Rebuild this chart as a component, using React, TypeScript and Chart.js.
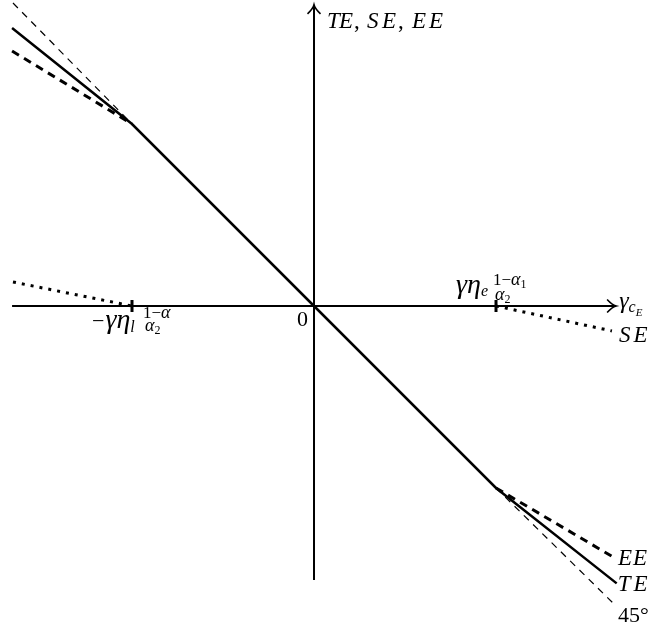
import React, { useEffect, useRef } from "react";
import { Chart, registerables } from "chart.js";

Chart.register(...registerables);

// ---- data (diagram units: 1 = the kink position) ----
const xRange = [-1.7253, 1.8571];
const yRange = [-1.8187, 1.6813];
const tickValues = [-1, 1];
const xAxisLine = [
  { x: -1.659, y: 0 },
  { x: 1.66, y: 0 },
];
const yAxisLine = [
  { x: 0, y: -1.505 },
  { x: 0, y: 1.655 },
];
const teLine = [
  { x: -1.659, y: 1.527 },
  { x: -1, y: 1 },
  { x: 0, y: 0 },
  { x: 1, y: -1 },
  { x: 1.663, y: -1.524 },
];
const eeLeft = [
  { x: -1.659, y: 1.401 },
  { x: -1, y: 1 },
];
const eeRight = [
  { x: 1, y: -1 },
  { x: 1.643, y: -1.379 },
];
const deg45Left = [
  { x: -1.654, y: 1.665 },
  { x: -1, y: 1 },
];
const deg45Right = [
  { x: 1, y: -1 },
  { x: 1.659, y: -1.648 },
];
const seLeft = [
  { x: -1.654, y: 0.132 },
  { x: -1, y: 0 },
];
const seRight = [
  { x: 1, y: 0 },
  { x: 1.637, y: -0.137 },
];

// ---- text labels ----
const yAxisTitle = ["T", "E", ",", "S", "E", ",", "E", "E"];
const yAxisTitleOffsets = [0, 12, 27, 40, 55, 71, 85, 102];
const originLabel = "0";
const lineLabels = ["EE", "TE", "45°"];
const seLabel = "SE";

const FONT = '"Liberation Serif", "Times New Roman", serif';

type Run = { t: string; size: number; italic?: boolean; dy?: number; gap?: number };

function drawRuns(ctx: CanvasRenderingContext2D, x: number, y: number, runs: Run[]) {
  for (const r of runs) {
    ctx.font = `${r.italic ? "italic " : ""}${r.size}px ${FONT}`;
    ctx.fillText(r.t, x, y + (r.dy || 0));
    x += ctx.measureText(r.t).width + (r.gap || 0);
  }
  return x;
}

const overlay = {
  id: "overlay",
  afterDatasetsDraw(chart: any) {
    const ctx: CanvasRenderingContext2D = chart.ctx;
    const xs = chart.scales.x;
    const ys = chart.scales.y;
    const X = (v: number) => xs.getPixelForValue(v);
    const Y = (v: number) => ys.getPixelForValue(v);
    const ox = X(0);
    const oy = Y(0);
    ctx.save();
    ctx.strokeStyle = "#000";
    ctx.fillStyle = "#000";
    ctx.lineCap = "butt";

    // tick marks
    ctx.lineWidth = 3;
    for (const t of tickValues) {
      const px = X(t);
      ctx.beginPath();
      ctx.moveTo(px, oy - 6);
      ctx.lineTo(px, oy + 6);
      ctx.stroke();
    }

    // arrow heads
    ctx.lineWidth = 1.6;
    const tx = X(xAxisLine[1].x);
    ctx.beginPath();
    ctx.moveTo(tx - 9, oy - 6.5);
    ctx.quadraticCurveTo(tx - 4, oy - 1, tx, oy);
    ctx.quadraticCurveTo(tx - 4, oy + 1, tx - 9, oy + 6.5);
    ctx.stroke();
    const ty = Y(yAxisLine[1].y);
    ctx.beginPath();
    ctx.moveTo(ox - 6.5, ty + 9);
    ctx.quadraticCurveTo(ox - 1, ty + 4, ox, ty);
    ctx.quadraticCurveTo(ox + 1, ty + 4, ox + 6.5, ty + 9);
    ctx.stroke();

    ctx.textBaseline = "alphabetic";
    ctx.textAlign = "left";

    // y axis title: TE, SE, EE
    yAxisTitle.forEach((c, i) => {
      ctx.font = `${c === "," ? "" : "italic "}23px ${FONT}`;
      ctx.fillText(c, ox + 13 + yAxisTitleOffsets[i], ty + 23);
    });

    // x axis title: gamma_{c_E}
    drawRuns(ctx, tx + 3, oy + 2, [
      { t: "γ", size: 24, italic: true },
      { t: "c", size: 16, italic: true, dy: 4 },
      { t: "E", size: 11, italic: true, dy: 8 },
    ]);

    // origin
    ctx.font = `22px ${FONT}`;
    ctx.fillText(originLabel, ox - 17, oy + 20);

    // left tick label: −γη_l (1−α)/α2
    const lx = X(-1);
    drawRuns(ctx, lx - 40, oy + 22, [
      { t: "−", size: 22, gap: 1 },
      { t: "γη", size: 28, italic: true },
      { t: "l", size: 16, italic: true, dy: 4 },
    ]);
    drawRuns(ctx, lx + 11, oy + 12, [
      { t: "1−", size: 17 },
      { t: "α", size: 18, italic: true },
    ]);
    drawRuns(ctx, lx + 13, oy + 25, [
      { t: "α", size: 18, italic: true },
      { t: "2", size: 12, dy: 3 },
    ]);

    // right tick label: γη_e (1−α1)/α2
    const rx = X(1);
    drawRuns(ctx, rx - 40, oy - 13, [
      { t: "γη", size: 28, italic: true },
      { t: "e", size: 16, italic: true, dy: 3 },
    ]);
    drawRuns(ctx, rx - 3, oy - 21, [
      { t: "1−", size: 17 },
      { t: "α", size: 18, italic: true },
      { t: "1", size: 12, dy: 3 },
    ]);
    drawRuns(ctx, rx - 1, oy - 6, [
      { t: "α", size: 18, italic: true },
      { t: "2", size: 12, dy: 3 },
    ]);

    // SE label
    const seEnd = seRight[1];
    drawRuns(ctx, X(seEnd.x) + 7, Y(seEnd.y) + 11, [
      { t: seLabel[0], size: 23, italic: true, gap: 3 },
      { t: seLabel[1], size: 23, italic: true },
    ]);

    // right-end labels
    const ends = [eeRight[1], teLine[teLine.length - 1], deg45Right[1]];
    lineLabels.forEach((lab, i) => {
      const p = ends[i];
      const py = Y(p.y) + 8 + (i === 2 ? 8 : 0);
      if (lab === "45°") {
        ctx.font = `22px ${FONT}`;
        ctx.fillText(lab, X(p.x) + 2, py);
      } else {
        const px = i === 0 ? X(p.x) + 5 : X(p.x) + 1;
        drawRuns(ctx, px, py, [
          { t: lab[0], size: 23, italic: true, gap: lab === "TE" ? 3 : 1 },
          { t: lab[1], size: 23, italic: true },
        ]);
      }
    });

    ctx.restore();
  },
};

export default function App() {
  const ref = useRef<HTMLCanvasElement | null>(null);
  useEffect(() => {
    if (!ref.current) return;
    const base = { showLine: true, pointRadius: 0, borderColor: "#000", backgroundColor: "#000", fill: false, tension: 0 };
    const chart = new Chart(ref.current, {
      type: "scatter",
      data: {
        datasets: [
          { ...base, label: "x-axis", data: xAxisLine, borderWidth: 2 },
          { ...base, label: "y-axis", data: yAxisLine, borderWidth: 2 },
          { ...base, label: "45° L", data: deg45Left, borderWidth: 1.2, borderDash: [7, 6] },
          { ...base, label: "45° R", data: deg45Right, borderWidth: 1.2, borderDash: [7, 6] },
          { ...base, label: "EE L", data: eeLeft, borderWidth: 3, borderDash: [8, 6] },
          { ...base, label: "EE R", data: eeRight, borderWidth: 3, borderDash: [8, 6] },
          { ...base, label: "SE L", data: seLeft, borderWidth: 3, borderDash: [3, 6] },
          { ...base, label: "SE R", data: seRight, borderWidth: 3, borderDash: [3, 6] },
          { ...base, label: "TE", data: teLine, borderWidth: 2.5 },
        ] as any,
      },
      options: {
        responsive: false,
        maintainAspectRatio: false,
        animation: false,
        layout: { padding: 0 },
        plugins: { legend: { display: false }, tooltip: { enabled: false } },
        scales: {
          x: { type: "linear", min: xRange[0], max: xRange[1], display: false },
          y: { type: "linear", min: yRange[0], max: yRange[1], display: false },
        },
      },
      plugins: [overlay],
    });
    return () => chart.destroy();
  }, []);
  return (
    <div style={{ position: "fixed", left: 0, top: 0, width: 652, height: 637, background: "#fff" }}>
      <canvas ref={ref} width={652} height={637} style={{ display: "block", width: 652, height: 637 }} />
    </div>
  );
}
